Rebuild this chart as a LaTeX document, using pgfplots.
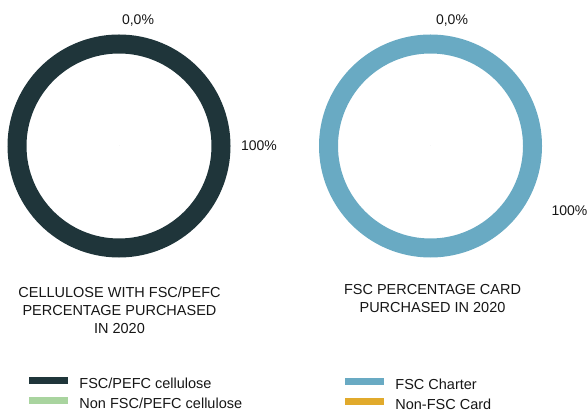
\documentclass[border=0pt]{standalone}
\usepackage{pgfplots}
\pgfplotsset{compat=1.18}
\usepackage{pgfplotstable}
\usepackage{fontspec}
\setmainfont{Liberation Sans}
\definecolor{ringA}{HTML}{1F353A}
\definecolor{ringB}{HTML}{A9D49F}
\definecolor{ringC}{HTML}{69AAC3}
\definecolor{ringD}{HTML}{E1AA2C}
\definecolor{txt}{HTML}{161616}

% centre x, centre y (pixel space, y up), start (cumulative %), pct
\pgfplotstableread{
x y start pct
119 265 0 100
}\celluloseFSC
\pgfplotstableread{
x y start pct
119 265 100 0
}\celluloseNon
\pgfplotstableread{
x y start pct
430.5 265 0 100
}\cardFSC
\pgfplotstableread{
x y start pct
430.5 265 100 0
}\cardNon

\pgfplotsset{
  ring/.style={scatter, only marks, mark=*, mark size=0pt,
    visualization depends on={\thisrow{start}\as\st},
    visualization depends on={\thisrow{pct}\as\pc},
    scatter/@pre marker code/.code={%
      \ifdim\pc pt>0pt
        \draw[draw=#1, line width=19bp] (0,0) ++({90-3.6*\st}:102bp)
          arc[start angle={90-3.6*\st}, delta angle={-3.6*\pc}, radius=102bp];
      \fi},
    scatter/@post marker code/.code={},
    legend image code/.code={\fill[#1] (0bp,1.5bp) rectangle (38bp,7.5bp);}},
  base/.style={width=588bp, height=411bp, scale only axis,
    xmin=0, xmax=588, ymin=0, ymax=411, hide axis, clip=false,
    legend cell align=left,
    legend style={draw=none, fill=none, inner sep=0pt, outer sep=0pt,
      anchor=north west, row sep=6bp, column sep=12bp,
      font=\fontsize{14.5bp}{17bp}\selectfont\color{txt},
      nodes={inner sep=0pt, text height=10.5bp, text depth=2.5bp}}},
}

\begin{document}
\begin{tikzpicture}
\begin{axis}[base, legend style={at={(29/588,34.5/411)}}]
\addplot[ring=ringA] table[x=x,y=y] {\celluloseFSC};
\addlegendentry{FSC/PEFC cellulose}
\addplot[ring=ringB] table[x=x,y=y] {\celluloseNon};
\addlegendentry{Non FSC/PEFC cellulose}
\node[font=\fontsize{14bp}{17bp}\selectfont, text=txt] at (axis cs:138,390) {0,0\%};
\node[font=\fontsize{14bp}{17bp}\selectfont, text=txt] at (axis cs:259,265) {100\%};
\node[font=\fontsize{14.5bp}{18bp}\selectfont, text=txt, align=center] at (axis cs:119.5,101)
  {CELLULOSE WITH FSC/PEFC\\PERCENTAGE PURCHASED\\IN 2020};
\end{axis}
\begin{axis}[base, legend style={at={(345/588,33.5/411)}}]
\addplot[ring=ringC] table[x=x,y=y] {\cardFSC};
\addlegendentry{FSC Charter}
\addplot[ring=ringD] table[x=x,y=y] {\cardNon};
\addlegendentry{Non-FSC Card}
\node[font=\fontsize{14bp}{17bp}\selectfont, text=txt] at (axis cs:452,390) {0,0\%};
\node[font=\fontsize{14bp}{17bp}\selectfont, text=txt] at (axis cs:569.5,200) {100\%};
\node[font=\fontsize{14.5bp}{18bp}\selectfont, text=txt, align=center] at (axis cs:432.5,112)
  {FSC PERCENTAGE CARD\\PURCHASED IN 2020};
\end{axis}
\pgfresetboundingbox
\path (0,0) rectangle (588bp,411bp);
\end{tikzpicture}
\end{document}
